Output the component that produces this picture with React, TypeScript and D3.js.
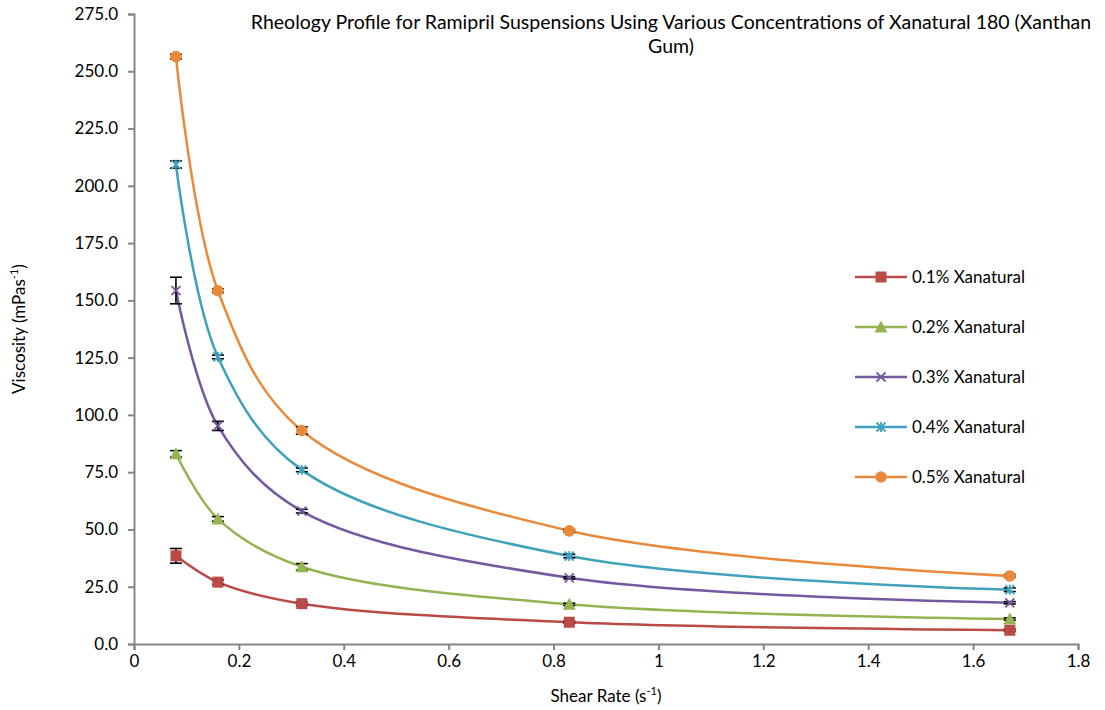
import React, { useEffect, useRef } from 'react';
import * as d3 from 'd3';

const shearRates = [0.08, 0.16, 0.32, 0.83, 1.67];
const seriesNames = ['0.1% Xanatural', '0.2% Xanatural', '0.3% Xanatural', '0.4% Xanatural', '0.5% Xanatural'];
const visc01 = [38.5, 27.0, 17.6, 9.5, 6.0];
const visc02 = [83.0, 54.6, 33.7, 17.3, 10.9];
const visc03 = [154.3, 95.2, 58.0, 28.9, 18.0];
const visc04 = [209.3, 125.3, 76.0, 38.4, 23.7];
const visc05 = [256.4, 154.2, 93.2, 49.4, 29.7];
const err01 = [3.2, 1.0, 0.8, 0.5, 0.5];
const err02 = [1.4, 1.0, 1.4, 0.5, 0.5];
const err03 = [5.8, 2.0, 0.8, 0.5, 0.5];
const err04 = [1.6, 0.8, 0.8, 0.8, 0.8];
const err05 = [1.0, 0.8, 1.6, 0.6, 0.6];
const yTicks = [0, 25, 50, 75, 100, 125, 150, 175, 200, 225, 250, 275];
const xTicks = [0, 0.2, 0.4, 0.6, 0.8, 1, 1.2, 1.4, 1.6, 1.8];

const colors = ['#BA4A47', '#93B453', '#7559A0', '#3FA1BC', '#E8893B'];
const markers = ['square', 'triangle', 'x', 'star', 'circle'];

const W = 1105, H = 710;
const margin = { top: 14, right: 27, bottom: 66, left: 134 };
const FONT = 'Lato, "Open Sans", sans-serif';

function drawMarker(g: any, type: string, color: string) {
  if (type === 'square') {
    g.append('rect').attr('x', -5.5).attr('y', -5.5).attr('width', 11).attr('height', 11).attr('fill', color);
  } else if (type === 'triangle') {
    g.append('path').attr('d', 'M0,-6.5L6.5,5.5L-6.5,5.5Z').attr('fill', color);
  } else if (type === 'circle') {
    g.append('circle').attr('r', 5.8).attr('fill', color);
  } else if (type === 'x') {
    g.append('path').attr('d', 'M-4.5,-4.5L4.5,4.5M-4.5,4.5L4.5,-4.5')
      .attr('stroke', color).attr('stroke-width', 1.8).attr('fill', 'none');
  } else if (type === 'star') {
    g.append('path').attr('d', 'M-4.5,-4.5L4.5,4.5M-4.5,4.5L4.5,-4.5M0,-5L0,5')
      .attr('stroke', color).attr('stroke-width', 1.8).attr('fill', 'none');
  }
}

export default function App() {
  const ref = useRef<SVGSVGElement>(null);

  useEffect(() => {
    document.body.style.margin = '0';
    const svg = d3.select(ref.current);
    svg.selectAll('*').remove();

    const width = W - margin.left - margin.right;
    const height = H - margin.top - margin.bottom;

    const x = d3.scaleLinear().domain([0, 1.8]).range([0, width]);
    const y = d3.scaleLinear().domain([0, 275]).range([height, 0]);

    const g = svg.append('g').attr('transform', `translate(${margin.left},${margin.top})`);

    // axes
    const yAxis = g.append('g')
      .call(d3.axisLeft(y).tickValues(yTicks).tickSize(6).tickSizeOuter(6).tickFormat(d3.format('.1f')));
    yAxis.selectAll('path, line').attr('stroke', '#868686').attr('stroke-width', 2);
    yAxis.selectAll('text').attr('font-family', FONT).attr('font-size', 17).attr('fill', '#000').attr('x', -16);

    const xAxis = g.append('g').attr('transform', `translate(0,${height})`)
      .call(d3.axisBottom(x).tickValues(xTicks).tickSize(6).tickSizeOuter(6).tickFormat((d: any) => d3.format('')(+d.toFixed(1))));
    xAxis.selectAll('path, line').attr('stroke', '#868686').attr('stroke-width', 2);
    xAxis.selectAll('text').attr('font-family', FONT).attr('font-size', 17).attr('fill', '#000').attr('y', 11);

    const allVals = [visc01, visc02, visc03, visc04, visc05];
    const allErr = [err01, err02, err03, err04, err05];

    const lineGen = d3.line<[number, number]>()
      .x(d => x(d[0]))
      .y(d => y(d[1]))
      .curve(d3.curveCatmullRom.alpha(0.5));

    allVals.forEach((vals, i) => {
      const pts = shearRates.map((s, j) => [s, vals[j]] as [number, number]);
      g.append('path')
        .attr('d', lineGen(pts))
        .attr('fill', 'none')
        .attr('stroke', colors[i])
        .attr('stroke-width', 2.5);
    });

    // error bars
    allVals.forEach((vals, i) => {
      shearRates.forEach((s, j) => {
        const cx = x(s);
        const y0 = y(vals[j] - allErr[i][j]);
        const y1 = y(vals[j] + allErr[i][j]);
        const eb = g.append('g').attr('stroke', '#000').attr('stroke-width', 1.6);
        eb.append('line').attr('x1', cx).attr('x2', cx).attr('y1', y0).attr('y2', y1);
        eb.append('line').attr('x1', cx - 6).attr('x2', cx + 6).attr('y1', y0).attr('y2', y0);
        eb.append('line').attr('x1', cx - 6).attr('x2', cx + 6).attr('y1', y1).attr('y2', y1);
      });
    });

    // markers
    allVals.forEach((vals, i) => {
      shearRates.forEach((s, j) => {
        const mg = g.append('g').attr('transform', `translate(${x(s)},${y(vals[j])})`);
        drawMarker(mg, markers[i], colors[i]);
      });
    });

    // legend
    const legend = svg.append('g').attr('transform', 'translate(855,277)');
    seriesNames.forEach((name, i) => {
      const row = legend.append('g').attr('transform', `translate(0,${i * 50})`);
      row.append('line').attr('x1', 0).attr('x2', 52).attr('y1', 0).attr('y2', 0)
        .attr('stroke', colors[i]).attr('stroke-width', 2.5);
      const mg = row.append('g').attr('transform', 'translate(26,0)');
      drawMarker(mg, markers[i], colors[i]);
      row.append('text').attr('x', 57).attr('y', 6)
        .attr('font-family', FONT).attr('font-size', 17).attr('fill', '#000').text(name);
    });

    // title
    const title = svg.append('text').attr('text-anchor', 'middle')
      .attr('font-family', FONT).attr('font-size', 19.5).attr('fill', '#000');
    title.append('tspan').attr('x', 671).attr('y', 29)
      .text('Rheology Profile for Ramipril Suspensions Using Various Concentrations of Xanatural 180 (Xanthan');
    title.append('tspan').attr('x', 671).attr('y', 53).text('Gum)');

    // axis labels
    const yl = svg.append('text').attr('text-anchor', 'middle')
      .attr('transform', `translate(25,${margin.top + height / 2}) rotate(-90)`)
      .attr('font-family', FONT).attr('font-size', 17).attr('fill', '#000');
    yl.append('tspan').text('Viscosity (mPas');
    yl.append('tspan').attr('font-size', 11).attr('dy', -7).text('-1');
    yl.append('tspan').attr('dy', 7).text(')');

    const xl = svg.append('text').attr('text-anchor', 'middle')
      .attr('x', margin.left + width / 2).attr('y', 702)
      .attr('font-family', FONT).attr('font-size', 17).attr('fill', '#000');
    xl.append('tspan').text('Shear Rate (s');
    xl.append('tspan').attr('font-size', 11).attr('dy', -7).text('-1');
    xl.append('tspan').attr('dy', 7).text(')');
  }, []);

  return <svg ref={ref} width={W} height={H} style={{ display: 'block', background: '#fff' }} />;
}
